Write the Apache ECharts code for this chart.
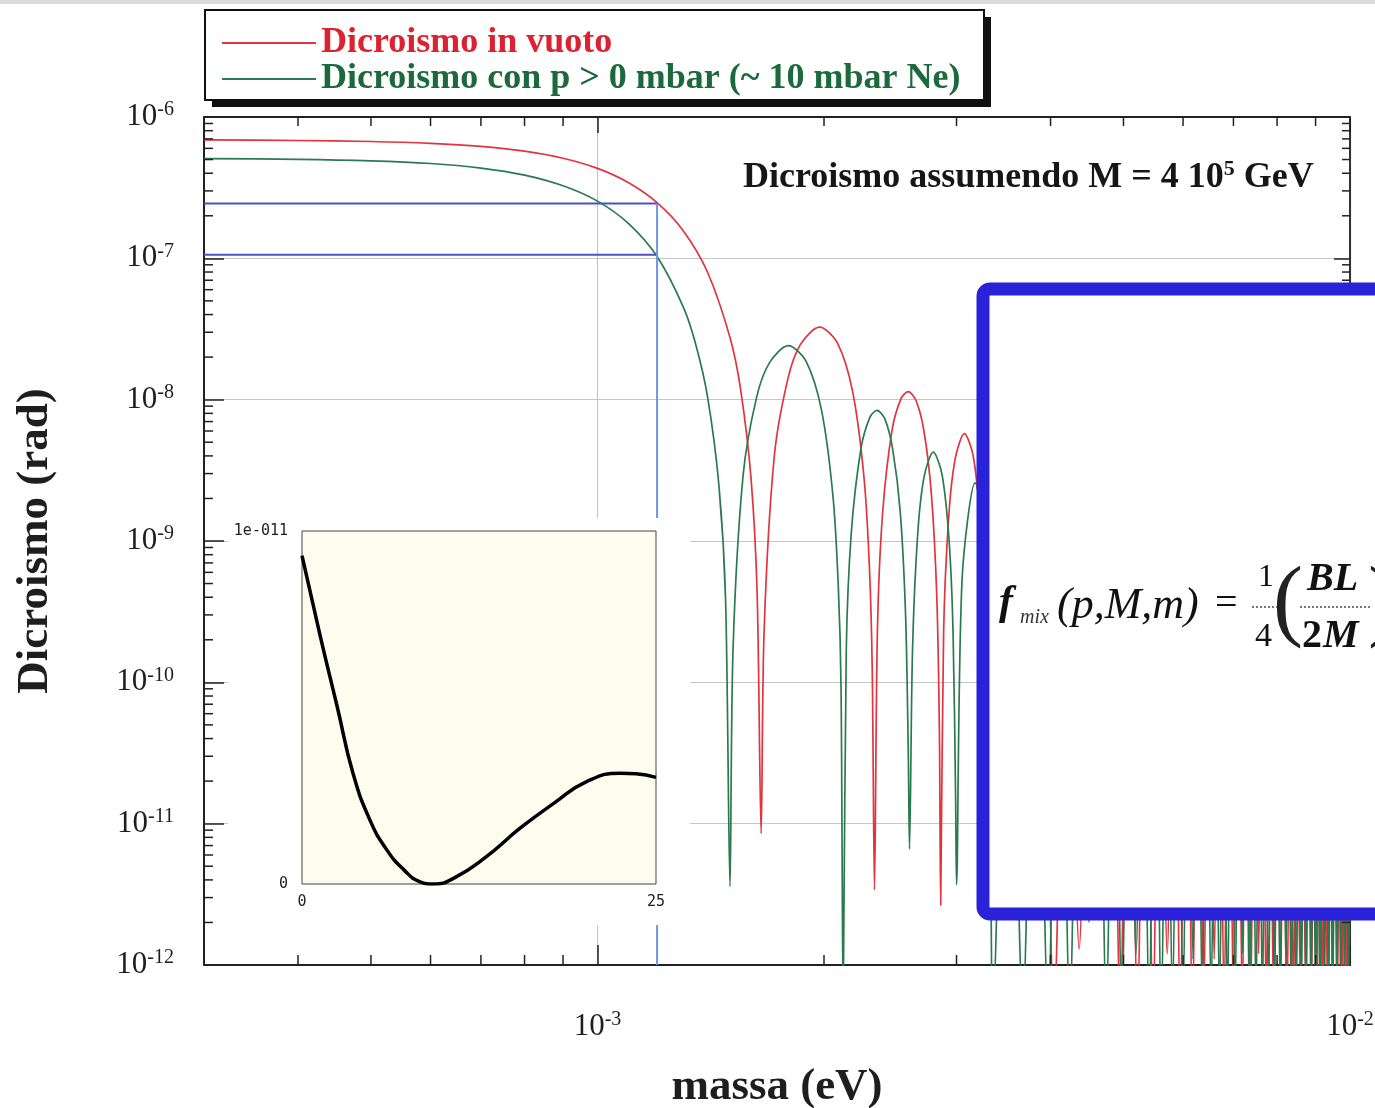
<!DOCTYPE html>
<html><head><meta charset="utf-8">
<script src="https://cdn.jsdelivr.net/npm/echarts@6/dist/echarts.min.js"></script>
<style>html,body{margin:0;padding:0;background:#fff}#c{width:1375px;height:1108px}</style>
</head><body><div id="c"></div><script>
// ---------- data ----------
const X_MIN = 3e-4, X_MAX = 1e-2, Y_MIN = 1e-12, Y_MAX = 1e-6;

// red curve: "Dicroismo in vuoto" (visible part, up to the blue box)
const redMass = [
  3.0e-4, 4.0e-4, 5.0e-4, 6.0e-4, 7.0e-4, 8.0e-4, 9.0e-4, 1.0e-3, 1.1e-3, 1.2e-3, 1.3e-3, 1.4e-3, 1.5e-3, 1.55e-3, 1.6e-3, 1.63e-3, 1.65e-3,
  1.665e-3, 1.717e-3, 1.791e-3, 1.862e-3, 1.973e-3, 2.082e-3, 2.183e-3, 2.261e-3, 2.299e-3, 2.318e-3, 2.334e-3,
  2.355e-3, 2.392e-3, 2.463e-3, 2.532e-3, 2.587e-3, 2.649e-3, 2.714e-3, 2.777e-3, 2.824e-3, 2.847e-3, 2.858e-3,
  2.884e-3, 2.929e-3, 2.988e-3, 3.073e-3, 3.157e-3, 3.225e-3, 3.265e-3, 3.291e-3, 3.300e-3
];
const redVal = [
  6.88e-7, 6.82e-7, 6.71e-7, 6.51e-7, 6.20e-7, 5.73e-7, 5.11e-7, 4.33e-7, 3.43e-7, 2.48e-7, 1.57e-7, 8.0e-8, 2.75e-8, 1.17e-8, 2.75e-9, 4.2e-10, 8.5e-12,
  2.3e-10, 3.9e-9, 1.41e-8, 2.47e-8, 3.26e-8, 2.54e-8, 1.14e-8, 2.77e-9, 6.2e-10, 1.24e-10, 3.4e-12,
  2.3e-10, 1.54e-9, 6.08e-9, 1.02e-8, 1.14e-8, 9.9e-9, 6.1e-9, 2.19e-9, 4.1e-10, 4.4e-11, 2.65e-12,
  2.3e-10, 1.47e-9, 3.83e-9, 5.75e-9, 4.0e-9, 1.38e-9, 3.2e-10, 1.9e-11, 3.0e-12
];
// red curve, dense region (lobe tops hidden behind the box, dips visible below it)
const redFarPeakMass = [3.500e-3, 3.870e-3, 4.207e-3, 4.519e-3, 4.811e-3, 5.086e-3, 5.347e-3, 5.595e-3, 5.834e-3, 6.062e-3, 6.283e-3, 6.496e-3, 6.702e-3, 6.902e-3, 7.097e-3, 7.286e-3, 7.471e-3, 7.651e-3, 7.827e-3, 7.999e-3, 8.167e-3, 8.332e-3, 8.494e-3, 8.653e-3, 8.809e-3, 8.962e-3, 9.112e-3, 9.261e-3, 9.406e-3, 9.550e-3, 9.692e-3, 9.831e-3, 9.968e-3];
const redFarPeakVal = [3.45e-9, 2.31e-9, 1.65e-9, 1.24e-9, 9.7e-10, 7.8e-10, 6.3e-10, 5.3e-10, 4.5e-10, 3.8e-10, 3.3e-10, 2.9e-10, 2.6e-10, 2.3e-10, 2.0e-10, 1.84e-10, 1.66e-10, 1.51e-10, 1.38e-10, 1.27e-10, 1.16e-10, 1.08e-10, 1.0e-10, 9.2e-11, 8.6e-11, 8.0e-11, 7.5e-11, 7.1e-11, 6.6e-11, 6.2e-11, 5.9e-11, 5.5e-11, 5.3e-11];
const redFarDipMass = [3.690e-3, 4.042e-3, 4.366e-3, 4.667e-3, 4.950e-3, 5.218e-3, 5.472e-3, 5.716e-3, 5.949e-3, 6.174e-3, 6.390e-3, 6.600e-3, 6.803e-3, 7.000e-3, 7.192e-3, 7.379e-3, 7.561e-3, 7.739e-3, 7.913e-3, 8.083e-3, 8.250e-3, 8.413e-3, 8.574e-3, 8.731e-3, 8.886e-3, 9.037e-3, 9.187e-3, 9.334e-3, 9.479e-3, 9.621e-3, 9.762e-3, 9.900e-3];
const redFarDipVal = [3e-12, 5e-13, 1.3e-12, 2.5e-12, 5e-13, 5e-13, 5e-13, 1.2e-12, 5e-13, 5e-13, 5e-13, 1.1e-12, 5e-13, 5e-13, 5e-13, 5e-13, 1.2e-12, 5e-13, 5e-13, 5e-13, 5e-13, 5e-13, 1e-12, 5e-13, 5e-13, 5e-13, 5e-13, 5e-13, 5e-13, 5e-13, 5e-13, 5e-13];

// green curve: "Dicroismo con p > 0 mbar"
const greenMass = [
  3.0e-4, 4.0e-4, 5.0e-4, 6.0e-4, 7.0e-4, 8.0e-4, 9.0e-4, 1.0e-3, 1.1e-3, 1.2e-3, 1.3e-3, 1.35e-3, 1.4e-3, 1.45e-3, 1.48e-3, 1.5e-3,
  1.514e-3, 1.561e-3, 1.628e-3, 1.693e-3, 1.793e-3, 1.892e-3, 1.985e-3, 2.056e-3, 2.090e-3, 2.107e-3, 2.121e-3,
  2.141e-3, 2.174e-3, 2.239e-3, 2.302e-3, 2.352e-3, 2.409e-3, 2.467e-3, 2.525e-3, 2.567e-3, 2.588e-3, 2.598e-3,
  2.622e-3, 2.663e-3, 2.716e-3, 2.794e-3, 2.870e-3, 2.932e-3, 2.968e-3, 2.992e-3, 3.000e-3,
  3.051e-3, 3.174e-3, 3.299e-3, 3.354e-3
];
const greenVal = [
  5.07e-7, 5.02e-7, 4.90e-7, 4.69e-7, 4.35e-7, 3.88e-7, 3.26e-7, 2.54e-7, 1.76e-7, 1.03e-7, 4.54e-8, 2.49e-8, 1.06e-8, 2.48e-9, 3.8e-10, 3.6e-12,
  1.7e-10, 2.88e-9, 1.05e-8, 1.83e-8, 2.41e-8, 1.88e-8, 8.4e-9, 2.05e-9, 4.6e-10, 9.2e-11, 5e-13,
  1.69e-10, 1.14e-9, 4.49e-9, 7.52e-9, 8.4e-9, 7.31e-9, 4.5e-9, 1.62e-9, 3.0e-10, 3.3e-11, 6.6e-12,
  1.68e-10, 1.09e-9, 2.83e-9, 4.25e-9, 2.95e-9, 1.02e-9, 2.34e-10, 1.43e-11, 3.7e-12,
  5.3e-10, 2.58e-9, 5.2e-10, 5e-13
];
const greenFarPeakMass = [3.518e-3, 3.824e-3, 4.108e-3, 4.373e-3, 4.623e-3, 4.861e-3, 5.087e-3, 5.303e-3, 5.511e-3, 5.712e-3, 5.906e-3, 6.093e-3, 6.275e-3, 6.452e-3, 6.624e-3, 6.792e-3, 6.955e-3, 7.115e-3, 7.272e-3, 7.425e-3, 7.575e-3, 7.722e-3, 7.866e-3, 8.008e-3, 8.147e-3, 8.284e-3, 8.419e-3, 8.551e-3, 8.682e-3, 8.811e-3, 8.937e-3, 9.062e-3, 9.186e-3, 9.307e-3, 9.427e-3, 9.546e-3, 9.663e-3, 9.779e-3, 9.893e-3, 1.0006e-2];
const greenFarPeakVal = [1.71e-9, 1.22e-9, 9.2e-10, 7.2e-10, 5.7e-10, 4.7e-10, 3.9e-10, 3.3e-10, 2.8e-10, 2.5e-10, 2.15e-10, 1.9e-10, 1.69e-10, 1.51e-10, 1.36e-10, 1.23e-10, 1.12e-10, 1.02e-10, 9.4e-11, 8.6e-11, 8.0e-11, 7.4e-11, 6.8e-11, 6.4e-11, 5.9e-11, 5.6e-11, 5.2e-11, 4.9e-11, 4.6e-11, 4.3e-11, 4.1e-11, 3.9e-11, 3.7e-11, 3.5e-11, 3.3e-11, 3.15e-11, 3.0e-11, 2.86e-11, 2.73e-11, 2.6e-11];
const greenFarDipMass = [3.674e-3, 3.969e-3, 4.243e-3, 4.500e-3, 4.743e-3, 4.975e-3, 5.196e-3, 5.408e-3, 5.612e-3, 5.809e-3, 6.000e-3, 6.185e-3, 6.364e-3, 6.538e-3, 6.708e-3, 6.874e-3, 7.036e-3, 7.194e-3, 7.348e-3, 7.500e-3, 7.649e-3, 7.794e-3, 7.937e-3, 8.078e-3, 8.216e-3, 8.352e-3, 8.485e-3, 8.617e-3, 8.746e-3, 8.874e-3, 9.000e-3, 9.124e-3, 9.247e-3, 9.367e-3, 9.487e-3, 9.605e-3, 9.721e-3, 9.836e-3, 9.950e-3];
const greenFarDipVal = [5e-13, 5e-13, 5e-13, 2e-12, 5e-13, 5e-13, 1.2e-12, 5e-13, 5e-13, 5e-13, 5e-13, 1.1e-12, 5e-13, 5e-13, 5e-13, 5e-13, 5e-13, 1.2e-12, 5e-13, 5e-13, 5e-13, 5e-13, 5e-13, 5e-13, 1e-12, 5e-13, 5e-13, 5e-13, 5e-13, 5e-13, 5e-13, 5e-13, 5e-13, 5e-13, 5e-13, 5e-13, 5e-13, 5e-13, 5e-13];

// blue guide lines (value of each curve at m = 1.2e-3 eV)
const guideMass = 1.2e-3;
const guideRed = 2.44e-7;
const guideGreen = 1.06e-7;

// inset plot
const insetX = [0, 1.3, 2.5, 3.6, 4.8, 6.0, 7.2, 8.3, 9.3, 10.7, 13.0, 15.4, 17.8, 20.1, 22.5, 23.6, 25];
const insetY = [9.3e-12, 7.0e-12, 5.0e-12, 3.14e-12, 1.81e-12, 0.96e-12, 0.40e-12, 0.07e-12, 0, 0.16e-12, 0.77e-12, 1.58e-12, 2.29e-12, 2.90e-12, 3.14e-12, 3.12e-12, 3.02e-12];

// minor tick positions
const xMinorTicks = [4e-4, 5e-4, 6e-4, 7e-4, 8e-4, 9e-4, 2e-3, 3e-3, 4e-3, 5e-3, 6e-3, 7e-3, 8e-3, 9e-3];
const yMinorTicks = [];
for (let d = -12; d < -6; d++) for (let k = 2; k <= 9; k++) yMinorTicks.push(k * Math.pow(10, d));

const NAME_RED = 'Dicroismo in vuoto';
const NAME_GREEN = 'Dicroismo con p > 0 mbar (~ 10 mbar Ne)';

// ---------- build ----------
function pairs(ms, vs) { return ms.map((m, i) => [m, vs[i]]); }
function interleave(pm, pv, dm, dv) {
  const out = [];
  for (let i = 0; i < pm.length; i++) { out.push([pm[i], pv[i]]); if (i < dm.length) out.push([dm[i], dv[i]]); }
  return out;
}
const redData = pairs(redMass, redVal).concat(interleave(redFarPeakMass, redFarPeakVal, redFarDipMass, redFarDipVal));
const greenData = pairs(greenMass, greenVal).concat(interleave(greenFarPeakMass, greenFarPeakVal, greenFarDipMass, greenFarDipVal));

const SERIF = '"Liberation Serif", "Times New Roman", serif';
const MONO = '"DejaVu Sans Mono", monospace';
const INK = '#1e1e1e';

function powLabel(v) {
  const e = Math.log10(v), r = Math.round(e);
  if (Math.abs(e - r) > 1e-6) return '';
  return '{b|10}{s|' + r + '}';
}
const powRich = {
  b: { fontFamily: SERIF, fontSize: 31, lineHeight: 34, color: INK },
  s: { fontFamily: SERIF, fontSize: 20, lineHeight: 20, verticalAlign: 'top', color: INK }
};

const chart = echarts.init(document.getElementById('c'), null, { renderer: 'canvas', width: 1375, height: 1108 });

const option = {
  animation: false,
  backgroundColor: '#ffffff',
  grid: [
    { left: 204, top: 117, width: 1146, height: 848, containLabel: false, outerBoundsMode: 'none' },
    { left: 302, top: 531, width: 354, height: 353, containLabel: false, outerBoundsMode: 'none',
      show: true, backgroundColor: '#fdfdef', borderColor: '#444', borderWidth: 1, z: 11 }
  ],
  legend: {
    show: true, orient: 'vertical', left: 222, top: 25, padding: 0, itemGap: 0,
    itemWidth: 94, itemHeight: 2, icon: 'rect', selectedMode: false, z: 6,
    textStyle: { fontFamily: SERIF, fontWeight: 'bold', fontSize: 36, lineHeight: 32 },
    data: [
      { name: NAME_RED, textStyle: { color: '#dc2130' } },
      { name: NAME_GREEN, textStyle: { color: '#1c6a3c' } }
    ]
  },
  xAxis: [
    { type: 'log', logBase: 10, gridIndex: 0, min: X_MIN, max: X_MAX, position: 'bottom',
      name: 'massa (eV)', nameLocation: 'middle', nameGap: 100, nameMoveOverlap: false,
      nameTextStyle: { fontFamily: SERIF, fontWeight: 'bold', fontSize: 45, color: INK },
      axisLine: { show: true, lineStyle: { color: '#222', width: 2 } },
      axisTick: { show: true, inside: true, length: 20, lineStyle: { color: '#222', width: 1.5 } },
      axisLabel: { show: true, margin: 45, formatter: powLabel, rich: powRich },
      splitLine: { show: true, lineStyle: { color: '#c6c6c6', width: 1.2 } },
      minorTick: { show: false }, minorSplitLine: { show: false } },
    { type: 'log', logBase: 10, gridIndex: 0, min: X_MIN, max: X_MAX, position: 'top',
      axisLine: { show: true, lineStyle: { color: '#222', width: 2 } },
      axisTick: { show: true, inside: true, length: 16, lineStyle: { color: '#222', width: 1.5 } },
      axisLabel: { show: false }, splitLine: { show: false } },
    { type: 'value', gridIndex: 1, min: 0, max: 25, interval: 25, z: 12,
      axisLine: { show: false }, axisTick: { show: false }, splitLine: { show: false },
      axisLabel: { show: true, margin: 11, fontFamily: MONO, fontSize: 15, color: '#222',
        formatter: v => (v === 0 ? '0' : '25') } }
  ],
  yAxis: [
    { type: 'log', logBase: 10, gridIndex: 0, min: Y_MIN, max: Y_MAX, position: 'left',
      name: 'Dicroismo (rad)', nameLocation: 'middle', nameGap: 146, nameRotate: 90, nameMoveOverlap: false,
      nameTextStyle: { fontFamily: SERIF, fontWeight: 'bold', fontSize: 45, color: INK },
      axisLine: { show: true, lineStyle: { color: '#222', width: 2 } },
      axisTick: { show: true, inside: true, length: 20, lineStyle: { color: '#222', width: 1.5 } },
      axisLabel: { show: true, margin: 30, formatter: powLabel, rich: powRich },
      splitLine: { show: true, lineStyle: { color: '#c6c6c6', width: 1.2 } },
      minorTick: { show: false }, minorSplitLine: { show: false } },
    { type: 'log', logBase: 10, gridIndex: 0, min: Y_MIN, max: Y_MAX, position: 'right',
      axisLine: { show: true, lineStyle: { color: '#333', width: 2 } },
      axisTick: { show: true, inside: true, length: 16, lineStyle: { color: '#222', width: 1.5 } },
      axisLabel: { show: false }, splitLine: { show: false } },
    { type: 'value', gridIndex: 1, min: 0, max: 1e-11, interval: 1e-11, z: 12,
      axisLine: { show: false }, axisTick: { show: false }, splitLine: { show: false },
      axisLabel: { show: true, margin: 14, fontFamily: MONO, fontSize: 15, color: '#222',
        formatter: v => (v === 0 ? '0' : '1e-011') } }
  ],
  series: [
    { name: NAME_RED, type: 'line', xAxisIndex: 0, yAxisIndex: 0, data: redData,
      showSymbol: false, symbol: 'none', smooth: 0.3, clip: true, z: 2,
      color: '#e2343f', lineStyle: { color: '#e2343f', width: 1.7 } },
    { name: NAME_GREEN, type: 'line', xAxisIndex: 0, yAxisIndex: 0, data: greenData,
      showSymbol: false, symbol: 'none', smooth: 0.3, clip: true, z: 2,
      color: '#2b7a4f', lineStyle: { color: '#2b7a4f', width: 1.7 } },
    { name: 'guideH1', type: 'line', xAxisIndex: 0, yAxisIndex: 0, symbol: 'none', z: 3,
      data: [[X_MIN, guideRed], [guideMass, guideRed]], lineStyle: { color: '#4b52c6', width: 2 } },
    { name: 'guideH2', type: 'line', xAxisIndex: 0, yAxisIndex: 0, symbol: 'none', z: 3,
      data: [[X_MIN, guideGreen], [guideMass, guideGreen]], lineStyle: { color: '#4b52c6', width: 2 } },
    { name: 'guideV', type: 'line', xAxisIndex: 0, yAxisIndex: 0, symbol: 'none', z: 3,
      data: [[guideMass, guideRed], [guideMass, Y_MIN]], lineStyle: { color: '#6e96e8', width: 2 } },
    { name: 'minorTicks', type: 'custom', xAxisIndex: 0, yAxisIndex: 0, silent: true, clip: false, z: 4,
      data: xMinorTicks.map(v => [v, Y_MIN]).concat(yMinorTicks.map(v => [X_MIN, v])),
      renderItem: function (params, api) {
        const i = params.dataIndex;
        const st = { stroke: '#222', lineWidth: 1.5 };
        if (i < xMinorTicks.length) {
          const v = xMinorTicks[i];
          const b = api.coord([v, Y_MIN]), t = api.coord([v, Y_MAX]);
          return { type: 'group', children: [
            { type: 'line', shape: { x1: b[0], y1: b[1], x2: b[0], y2: b[1] - 10 }, style: st },
            { type: 'line', shape: { x1: t[0], y1: t[1], x2: t[0], y2: t[1] + 9 }, style: st } ] };
        }
        const v = yMinorTicks[i - xMinorTicks.length];
        const l = api.coord([X_MIN, v]), r = api.coord([X_MAX, v]);
        return { type: 'group', children: [
          { type: 'line', shape: { x1: l[0], y1: l[1], x2: l[0] + 9, y2: l[1] }, style: st },
          { type: 'line', shape: { x1: r[0], y1: r[1], x2: r[0] - 8, y2: r[1] }, style: st } ] };
      } },
    { name: 'inset', type: 'line', xAxisIndex: 2, yAxisIndex: 2, data: pairs(insetX, insetY),
      symbol: 'none', smooth: 0.5, clip: true, z: 13, lineStyle: { color: '#000', width: 3.5 } }
  ],
  graphic: [
    { type: 'rect', z: 1, silent: true, shape: { x: 0, y: 0, width: 1375, height: 4 }, style: { fill: '#dcdcdc' } },
    { type: 'rect', z: 1, silent: true, shape: { x: 212, y: 17, width: 779, height: 90 }, style: { fill: '#111' } },
    { type: 'rect', z: 2, silent: true, shape: { x: 205, y: 10, width: 779, height: 90 }, style: { fill: '#fff', stroke: '#111', lineWidth: 2 } },
    { type: 'rect', z: 9, silent: true, shape: { x: 228, y: 518, width: 462, height: 407 }, style: { fill: '#fff' } },
    { type: 'text', z: 5, left: 743, top: 158, silent: true,
      style: { text: '{a|Dicroismo assumendo M = 4 10}{s|5}{a| GeV}',
        rich: { a: { fontFamily: SERIF, fontWeight: 'bold', fontSize: 36, lineHeight: 40, fill: '#161616', color: '#161616' },
                s: { fontFamily: SERIF, fontWeight: 'bold', fontSize: 22, lineHeight: 22, verticalAlign: 'top', fill: '#161616', color: '#161616' } } } },
    // formula box
    { type: 'rect', z: 20, silent: true, shape: { x: 983, y: 289, width: 440, height: 625, r: 7 }, style: { fill: '#fff', stroke: '#2a22d8', lineWidth: 13 } },
    { type: 'text', z: 21, left: 999, top: 582, silent: true, style: { text: 'f', font: 'italic bold 42px ' + SERIF, fill: '#111' } },
    { type: 'text', z: 21, left: 1020, top: 608, silent: true, style: { text: 'mix', font: 'italic 20px ' + SERIF, fill: '#333' } },
    { type: 'text', z: 21, left: 1057, top: 584, silent: true, style: { text: '(p,M,m)', font: 'italic 44px ' + SERIF, fill: '#111' } },
    { type: 'text', z: 21, left: 1215, top: 584, silent: true, style: { text: '=', font: '40px ' + SERIF, fill: '#111' } },
    { type: 'text', z: 21, left: 1258, top: 562, silent: true, style: { text: '1', font: '32px ' + SERIF, fill: '#111' } },
    { type: 'line', z: 21, silent: true, shape: { x1: 1252, y1: 607, x2: 1278, y2: 607 }, style: { stroke: '#777', lineWidth: 2, lineDash: [2, 2] } },
    { type: 'text', z: 21, left: 1255, top: 620, silent: true, style: { text: '4', font: '34px ' + SERIF, fill: '#111' } },
    { type: 'text', z: 21, left: 1273, top: 560, silent: true, style: { text: '(', font: '90px ' + SERIF, fill: '#222' } },
    { type: 'text', z: 21, left: 1307, top: 560, silent: true, style: { text: 'BL', font: 'italic bold 40px ' + SERIF, fill: '#111' } },
    { type: 'line', z: 21, silent: true, shape: { x1: 1300, y1: 607, x2: 1370, y2: 607 }, style: { stroke: '#777', lineWidth: 2, lineDash: [2, 2] } },
    { type: 'text', z: 21, left: 1302, top: 617, silent: true, style: { text: '2', font: 'bold 40px ' + SERIF, fill: '#111' } },
    { type: 'text', z: 21, left: 1323, top: 617, silent: true, style: { text: 'M', font: 'italic bold 40px ' + SERIF, fill: '#111' } },
    { type: 'text', z: 21, left: 1368, top: 560, silent: true, style: { text: ')', font: '90px ' + SERIF, fill: '#222' } }
  ]
};
chart.setOption(option);
</script></body></html>
